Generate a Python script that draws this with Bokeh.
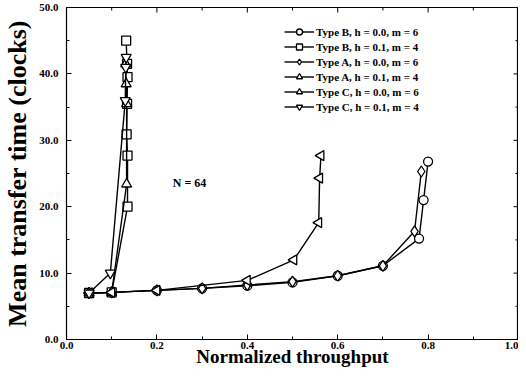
import numpy as np
from bokeh.plotting import figure
from bokeh.models import Label, NumeralTickFormatter, Range1d, FixedTicker
from bokeh.embed import file_html
from bokeh.resources import INLINE

# ---- data ----
b00_x = [0.05, 0.10, 0.20, 0.30, 0.40, 0.50, 0.60, 0.70, 0.78, 0.79, 0.80]
b00_y = [7.0, 7.1, 7.4, 7.7, 8.1, 8.6, 9.6, 11.1, 15.2, 21.0, 26.8]

b01_x = [0.05, 0.10, 0.135, 0.135, 0.133, 0.134, 0.135, 0.134, 0.132]
b01_y = [7.0, 7.1, 20.0, 27.7, 30.9, 35.5, 39.5, 41.5, 45.0]

a00_x = [0.05, 0.10, 0.20, 0.30, 0.40, 0.50, 0.60, 0.70, 0.77, 0.785]
a00_y = [7.0, 7.1, 7.4, 7.7, 8.2, 8.7, 9.6, 11.1, 16.3, 25.3]

a01_x = [0.05, 0.10, 0.133, 0.133, 0.132, 0.131]
a01_y = [7.0, 7.1, 23.4, 35.5, 38.5, 41.5]

c00_x = [0.05, 0.10, 0.20, 0.40, 0.503, 0.558, 0.560, 0.563]
c00_y = [7.0, 7.1, 7.4, 8.9, 12.0, 17.6, 24.3, 27.7]

c01_x = [0.05, 0.097, 0.130, 0.131, 0.132]
c01_y = [7.0, 10.0, 36.0, 41.0, 42.5]

labels = ["Type B, h = 0.0, m = 6", "Type B, h = 0.1, m = 4",
          "Type A, h = 0.0, m = 6", "Type A, h = 0.1, m = 4",
          "Type C, h = 0.0, m = 6", "Type C, h = 0.1, m = 4"]

x_min, x_max = 0.0, 1.0
y_min, y_max = 0.0, 50.0
x_ticks = [0.0, 0.2, 0.4, 0.6, 0.8, 1.0]
x_minor = [0.1, 0.3, 0.5, 0.7, 0.9]
y_ticks = [0, 10, 20, 30, 40, 50]
y_minor = [5, 15, 25, 35, 45]
note_text = "N = 64"
note_x, note_y = 0.235, 23.5

FONT = "Liberation Serif"

p = figure(width=518, height=369, output_backend="svg", toolbar_location=None,
           x_range=Range1d(x_min, x_max), y_range=Range1d(y_min, y_max),
           min_border_top=7, min_border_right=0, min_border_left=56, min_border_bottom=0)
p.grid.visible = False
p.outline_line_color = "black"
p.outline_line_width = 1.2
p.background_fill_color = "white"

series = [
    (b00_x, b00_y, "circle", 0.0),
    (b01_x, b01_y, "square", 0.0),
    (a00_x, a00_y, "diamond", 0.0),
    (a01_x, a01_y, "triangle", 0.0),
    (c00_x, c00_y, "triangle", np.pi / 2),
    (c01_x, c01_y, "inverted_triangle", 0.0),
]
sizes = {"circle": 9, "square": 9, "diamond": 11, "triangle": 10, "inverted_triangle": 10}
for (xs, ys, mk, ang), lab in zip(series, labels):
    p.line(xs, ys, line_color="black", line_width=1.4, legend_label=lab)
    p.scatter(x=xs, y=ys, angle=[ang] * len(xs), marker=mk, size=sizes[mk],
              line_color="black", line_width=1.3, fill_color="white", legend_label=lab)

# mirrored inward ticks on the top and right frame edges (clipped dashes)
p.scatter([x_max] * len(y_ticks), y_ticks, marker="dash", size=10, line_color="black", line_width=1)
p.scatter([x_max] * len(y_minor), y_minor, marker="dash", size=6, line_color="black", line_width=1)
p.scatter(x_ticks, [y_max] * len(x_ticks), marker="dash", angle=np.pi / 2, size=10,
          line_color="black", line_width=1)
p.scatter(x_minor, [y_max] * len(x_minor), marker="dash", angle=np.pi / 2, size=6,
          line_color="black", line_width=1)

def style_axis(ax):
    ax.axis_line_color = "black"
    ax.major_tick_in = 5
    ax.major_tick_out = 0
    ax.minor_tick_in = 3
    ax.minor_tick_out = 0
    ax.major_tick_line_color = "black"
    ax.minor_tick_line_color = "black"
    ax.major_label_text_font = FONT
    ax.major_label_text_font_style = "bold"
    ax.major_label_text_font_size = "11px"
    ax.major_label_text_color = "black"
    ax.axis_label_text_font = FONT
    ax.axis_label_text_font_style = "bold"
    ax.axis_label_text_color = "black"

xa = p.xaxis[0]
ya = p.yaxis[0]
xa.ticker = FixedTicker(ticks=x_ticks, minor_ticks=x_minor)
ya.ticker = FixedTicker(ticks=y_ticks, minor_ticks=y_minor)
xa.formatter = NumeralTickFormatter(format="0.0")
ya.formatter = NumeralTickFormatter(format="0.0")
style_axis(xa)
style_axis(ya)
xa.axis_label = "Normalized throughput"
ya.axis_label = "Mean transfer time (clocks)"
xa.axis_label_text_font_size = "19px"
ya.axis_label_text_font_size = "26px"
xa.major_label_standoff = 2
xa.axis_label_standoff = -6
ya.major_label_standoff = 8
ya.axis_label_standoff = 4

lg = p.legend[0]
lg.location = (218, 225)
lg.border_line_color = None
lg.background_fill_alpha = 0
lg.label_text_font = FONT
lg.label_text_font_style = "bold"
lg.label_text_font_size = "11px"
lg.label_text_color = "black"
lg.glyph_width = 30
lg.glyph_height = 15
lg.label_height = 15
lg.spacing = 0
lg.label_standoff = 2
lg.padding = 4
lg.margin = 0

p.add_layout(Label(x=note_x, y=note_y, text=note_text, text_font=FONT,
                   text_font_style="bold", text_font_size="12px", text_color="black",
                   text_baseline="middle"))

open("out.html", "w").write(file_html(p, INLINE))
